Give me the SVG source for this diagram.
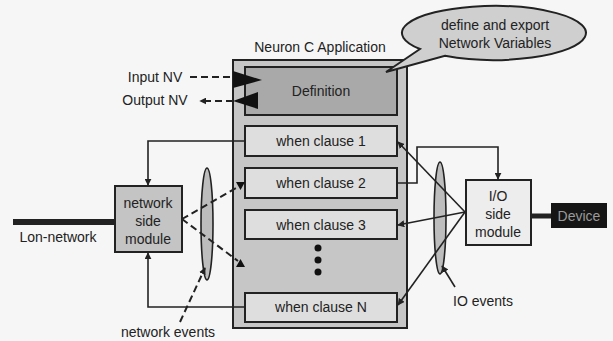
<svg xmlns="http://www.w3.org/2000/svg" width="613" height="341" viewBox="0 0 613 341">
<defs>
<style>
text{font-family:"Liberation Sans",Arial,sans-serif;font-size:14px;fill:#222;text-anchor:middle}
.box{stroke:#222;stroke-width:2}
.ln{fill:none;stroke:#222;stroke-width:1.6}
.dash{fill:none;stroke:#222;stroke-width:2;stroke-dasharray:7,4}
.evt{fill:#bdbdbd;stroke:#222;stroke-width:1.6}
.tri{fill:#111}
</style>
<marker id="ah" viewBox="0 0 10 10" refX="9" refY="5" markerWidth="7" markerHeight="7" markerUnits="userSpaceOnUse" orient="auto">
<path d="M0,0 L10,5 L0,10 Z" fill="#222"/>
</marker>
</defs>
<rect width="613" height="341" fill="#f6f6f6"/>

<g id="app">
<rect class="box" x="233" y="60" width="174" height="268" fill="#c6c6c6"/>
<text x="320" y="52">Neuron C Application</text>
</g>
<g id="definition">
<rect class="box" x="245" y="67" width="152" height="48" fill="#a9a9a9"/>
<text x="321" y="96">Definition</text>
</g>
<g id="when1">
<rect class="box" x="245" y="126" width="152" height="30" fill="#dedede"/>
<text x="321" y="146">when clause 1</text>
</g>
<g id="when2">
<rect class="box" x="245" y="168" width="152" height="30" fill="#dedede"/>
<text x="321" y="188">when clause 2</text>
</g>
<g id="when3">
<rect class="box" x="245" y="210" width="152" height="29" fill="#dedede"/>
<text x="321" y="230">when clause 3</text>
</g>
<g id="dots">
<circle cx="318" cy="248" r="3.5" fill="#111"/>
<circle cx="318" cy="260" r="3.5" fill="#111"/>
<circle cx="318" cy="272" r="3.5" fill="#111"/>
</g>
<g id="whenN">
<rect class="box" x="245" y="293" width="152" height="29" fill="#dedede"/>
<text x="321" y="312">when clause N</text>
</g>

<g id="bubble">
<path class="box" d="M420,49 L386,72 L445,55.8 A92,27 0 1 0 420,49 Z" fill="#cfcfcf"/>
<text x="495" y="30">define and export</text>
<text x="495" y="48">Network Variables</text>
</g>

<g id="inputnv"><text x="155" y="82">Input NV</text></g>
<g id="outputnv"><text x="155" y="105">Output NV</text></g>

<g id="netmodule">
<rect class="box" x="115" y="186" width="67" height="66" fill="#c4c4c4"/>
<text x="148" y="208">network</text>
<text x="148" y="226">side</text>
<text x="148" y="244">module</text>
</g>
<g id="lon">
<text x="58" y="242">Lon-network</text>
</g>

<g id="iomodule">
<rect class="box" x="466" y="180" width="65" height="65" fill="#ededed"/>
<text x="498" y="201">I/O</text>
<text x="498" y="219">side</text>
<text x="498" y="237">module</text>
</g>
<g id="device">
<rect x="551" y="203" width="56" height="25" fill="#151515"/>
<text x="579" y="221" style="fill:#9a9a9a">Device</text>
</g>

<g id="netevents">
<ellipse class="evt" cx="207" cy="224" rx="6" ry="56"/>
<text x="168" y="337">network events</text>
</g>
<g id="ioevents">
<ellipse class="evt" cx="440" cy="218" rx="6" ry="56"/>
<text x="483" y="306">IO events</text>
</g>

<g id="connectors">
<line x1="13" y1="222" x2="115" y2="222" stroke="#222" stroke-width="6"/>
<line x1="531" y1="216" x2="551" y2="216" stroke="#222" stroke-width="5"/>
<path class="dash" d="M190,77 H236"/>
<path class="tri" d="M233,71 L262,80 L233,88 Z"/>
<path class="dash" d="M233,101 H200" marker-end="url(#ah)"/>
<path class="tri" d="M258,92 L258,109 L233,101 Z"/>
<path class="ln" d="M245,141 H148 V185" marker-end="url(#ah)"/>
<path class="ln" d="M245,307 H148 V253" marker-end="url(#ah)"/>
<path class="dash" d="M182,219 L238,187"/>
<path class="tri" d="M236,182 L245,182 L240.5,190 Z"/>
<path class="dash" d="M182,219 L238,261"/>
<path class="tri" d="M236,267 L245,267 L240.5,259 Z"/>
<path class="dash" d="M180,322 L205,268" marker-end="url(#ah)"/>
<path class="ln" d="M397,183 H417 V147 H498 V179" marker-end="url(#ah)"/>
<path class="ln" d="M465,212 L398,142" marker-end="url(#ah)"/>
<path class="ln" d="M465,212 L398,225" marker-end="url(#ah)"/>
<path class="ln" d="M465,212 L398,305" marker-end="url(#ah)"/>
<path class="ln" d="M455,287 L442,266" marker-end="url(#ah)"/>
</g>
</svg>
